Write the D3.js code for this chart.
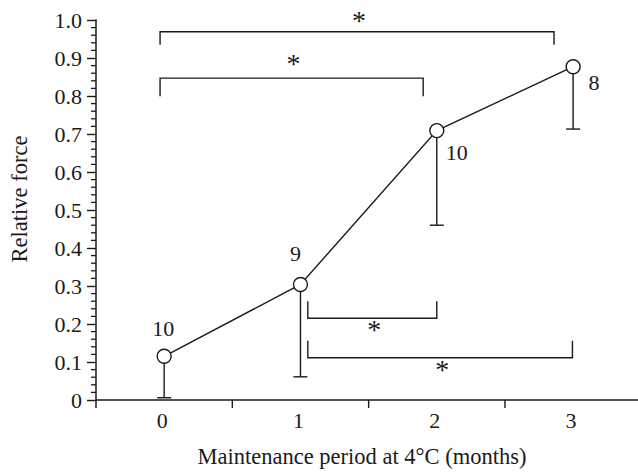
<!DOCTYPE html>
<html><head><meta charset="utf-8">
<script src="https://cdn.jsdelivr.net/npm/d3@7"></script>
<style>body{margin:0;background:#fff}svg{display:block}</style>
</head><body><svg width="638" height="474"></svg>
<script>
const months = [0, 1, 2, 3];
const meanForce = [0.115, 0.304, 0.709, 0.877];
const lowerSD = [0.006, 0.061, 0.46, 0.713];
const nLabels = ["10", "9", "10", "8"];
const yTicks = [0, 0.1, 0.2, 0.3, 0.4, 0.5, 0.6, 0.7, 0.8, 0.9, 1.0];
const xTickLabels = ["0", "1", "2", "3"];
// significance brackets: from/to (months), level (relative force), direction
const brackets = [
  {a: -0.03, b: 2.86, y: 0.969, dir: "down"},
  {a: -0.03, b: 1.90, y: 0.847, dir: "down"},
  {a: 1.054, b: 2.0, y: 0.215, dir: "up"},
  {a: 1.054, b: 2.995, y: 0.111, dir: "up"}
];

const FONT = "'Liberation Serif','Times New Roman',serif";
const svg = d3.select("svg");
const x = d3.scaleLinear().domain([-0.5, 3.476]).range([96, 638]);
const y = d3.scaleLinear().domain([0, 1]).range([400, 20]);
const col = "#1a1a1a";
const txt = (g) => g.style("font-family", FONT).attr("fill", col);

// y axis
const yAxis = svg.append("g").attr("transform", "translate(96,0)")
  .call(d3.axisLeft(y).tickValues(yTicks).tickSize(9).tickPadding(5)
    .tickFormat(d => d === 0 ? "0" : d3.format(".1f")(d)));
yAxis.select(".domain").remove();
yAxis.selectAll("line").attr("stroke", col).attr("stroke-width", 1.4);
yAxis.selectAll("text").attr("font-size", 22).call(txt);
// minor ticks
const minor = d3.range(0, 1.0001, 0.02).filter(v => Math.abs(v*10 - Math.round(v*10)) > 1e-6);
svg.append("g").selectAll("line").data(minor).join("line")
  .attr("x1", 91).attr("x2", 96).attr("y1", d => y(d)).attr("y2", d => y(d))
  .attr("stroke", col).attr("stroke-width", 1.3);
svg.append("line").attr("x1", 96).attr("x2", 96).attr("y1", y(1) - 0.7).attr("y2", 408)
  .attr("stroke", col).attr("stroke-width", 1.5);

// x axis
svg.append("line").attr("x1", 96).attr("x2", 638).attr("y1", 400).attr("y2", 400)
  .attr("stroke", col).attr("stroke-width", 1.5);
svg.append("g").selectAll("line").data([0.5, 1.5, 2.5]).join("line")
  .attr("x1", d => x(d)).attr("x2", d => x(d)).attr("y1", 400).attr("y2", 408)
  .attr("stroke", col).attr("stroke-width", 1.4);
svg.append("g").selectAll("text").data(months).join("text")
  .attr("x", (d) => x(d) - 2).attr("y", 428).attr("text-anchor", "middle")
  .attr("font-size", 22).call(txt).text((d, i) => xTickLabels[i]);

// titles
svg.append("text").attr("x", 362).attr("y", 464).attr("text-anchor", "middle")
  .attr("font-size", 22.5).call(txt).text("Maintenance period at 4°C (months)");
svg.append("text").attr("transform", "translate(27,199) rotate(-90)").attr("text-anchor", "middle")
  .attr("font-size", 22.5).call(txt).text("Relative force");

// error bars (downward only)
const eb = svg.append("g");
months.forEach((m, i) => {
  eb.append("line").attr("x1", x(m)).attr("x2", x(m)).attr("y1", y(meanForce[i])).attr("y2", y(lowerSD[i]))
    .attr("stroke", col).attr("stroke-width", 1.4);
  eb.append("line").attr("x1", x(m) - 7).attr("x2", x(m) + 7).attr("y1", y(lowerSD[i])).attr("y2", y(lowerSD[i]))
    .attr("stroke", col).attr("stroke-width", 1.4);
});

// line
svg.append("path").datum(months.map((m, i) => [m, meanForce[i]]))
  .attr("d", d3.line().x(d => x(d[0])).y(d => y(d[1])))
  .attr("fill", "none").attr("stroke", col).attr("stroke-width", 1.4);
svg.append("g").selectAll("circle").data(months).join("circle")
  .attr("cx", d => x(d)).attr("cy", (d, i) => y(meanForce[i])).attr("r", 7)
  .attr("fill", "#fff").attr("stroke", col).attr("stroke-width", 1.4);

// n labels (offsets dx, dy of text centre relative to the point)
const nOff = [[-1, -28], [-5, -31], [20, 22], [21, 16]];
svg.append("g").selectAll("text").data(months).join("text")
  .attr("x", (d, i) => x(d) + nOff[i][0]).attr("y", (d, i) => y(meanForce[i]) + nOff[i][1] + 7.5)
  .attr("text-anchor", "middle").attr("font-size", 22).call(txt).text((d, i) => nLabels[i]);

// brackets
const bg = svg.append("g");
brackets.forEach((b, k) => {
  const yy = y(b.y), leg = b.dir === "down" ? (k === 0 ? 13 : 18) : -17;
  bg.append("path")
    .attr("d", `M${x(b.a)},${yy + leg}V${yy}H${x(b.b)}V${yy + leg}`)
    .attr("fill", "none").attr("stroke", col).attr("stroke-width", 1.4);
  const sc = b.dir === "down" ? yy - (k === 0 ? 13.7 : 17.3) : yy + 8.7; // star centre
  bg.append("text").attr("x", (x(b.a) + x(b.b)) / 2 + 2).attr("y", sc + 12)
    .attr("text-anchor", "middle").attr("font-size", 28).call(txt).text("*");
});
</script></body></html>
